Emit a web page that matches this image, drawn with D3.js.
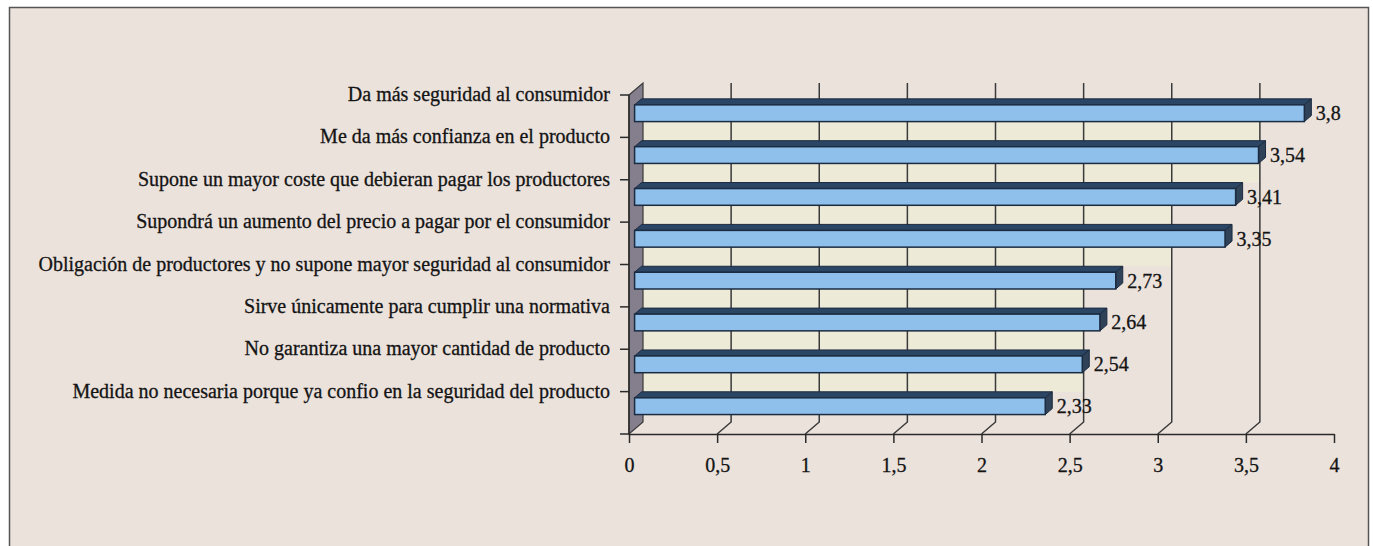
<!DOCTYPE html>
<html>
<head>
<meta charset="utf-8">
<script src="https://cdn.jsdelivr.net/npm/d3@7"></script>
<style>
  body { margin: 0; background: #ffffff; }
  svg { display: block; }
</style>
</head>
<body>
<svg id="chart" width="1373" height="546"></svg>
<script>
const categories = [
  "Da más seguridad al consumidor",
  "Me da más confianza en el producto",
  "Supone un mayor coste que debieran pagar los productores",
  "Supondrá un aumento del precio a pagar por el consumidor",
  "Obligación de productores y no supone mayor seguridad al consumidor",
  "Sirve únicamente para cumplir una normativa",
  "No garantiza una mayor cantidad de producto",
  "Medida no necesaria porque ya confio en la seguridad del producto"
];
const values = [3.8, 3.54, 3.41, 3.35, 2.73, 2.64, 2.54, 2.33];
const xTicks = [0, 0.5, 1, 1.5, 2, 2.5, 3, 3.5, 4];

const font = "'Liberation Serif', 'Times New Roman', serif";

// 3d depth of the plot (back wall offset)
const dx = 14, dy = -12;
// bar depth, as fraction of full depth
const d1 = 0.4, d2 = 0.9;

const yTop = 95, yBot = 434;
const x = d3.scaleLinear().domain([0, 4]).range([629, 1334]);
const y = d3.scaleBand().domain(categories).range([yTop, yBot]).paddingInner(0.6).paddingOuter(0.35);
const catStep = (yBot - yTop) / categories.length;
const fmt = v => String(v).replace(".", ",");

const svg = d3.select("#chart");

// chart frame
svg.append("rect")
  .attr("x", 9.5).attr("y", 7.5)
  .attr("width", 1359).attr("height", 560)
  .attr("fill", "#ebe2dc")
  .attr("stroke", "#555")
  .attr("stroke-width", 1.5);

// cream strips on back wall between bars
svg.append("g")
  .selectAll("rect")
  .data(categories.slice(0, -1))
  .join("rect")
  .attr("x", x(0) + dx)
  .attr("y", d => y(d) + y.bandwidth() + d1 * dy)
  .attr("width", (d, i) => x(Math.floor(values[i] * 2) / 2) - x(0))
  .attr("height", d => y.step() - y.bandwidth() + (d2 - d1) * dy)
  .attr("fill", "#eeead8");

// gridlines on back wall and floor
svg.append("g")
  .attr("stroke", "#3a3a3a")
  .attr("stroke-width", 1.5)
  .attr("fill", "none")
  .selectAll("path")
  .data(xTicks.filter(v => v > 0 && v < 4))
  .join("path")
  .attr("d", v => `M${x(v) + dx},${yTop + dy}V${yBot + dy}L${x(v)},${yBot}`);

// left side wall
svg.append("path")
  .attr("d", `M${x(0)},${yTop}L${x(0) + dx},${yTop + dy}V${yBot + dy}L${x(0)},${yBot}Z`)
  .attr("fill", "#857e8c")
  .attr("stroke", "#3a3a3a")
  .attr("stroke-width", 1.2);

// bars
const bars = svg.append("g")
  .selectAll("g")
  .data(categories)
  .join("g");

const bx0 = x(0);
bars.append("path") // top face
  .attr("d", (d, i) => {
    const yy = y(d);
    const xv = x(values[i]);
    return `M${bx0 + d1 * dx},${yy + d1 * dy}L${xv + d1 * dx},${yy + d1 * dy}L${xv + d2 * dx},${yy + d2 * dy}L${bx0 + d2 * dx},${yy + d2 * dy}Z`;
  })
  .attr("fill", "#2b4564")
  .attr("stroke", "#1b2b40")
  .attr("stroke-width", 1);

bars.append("path") // end cap
  .attr("d", (d, i) => {
    const yy = y(d), h = y.bandwidth();
    const xv = x(values[i]);
    return `M${xv + d1 * dx},${yy + d1 * dy}L${xv + d2 * dx},${yy + d2 * dy}L${xv + d2 * dx},${yy + h + d2 * dy}L${xv + d1 * dx},${yy + h + d1 * dy}Z`;
  })
  .attr("fill", "#2f4257")
  .attr("stroke", "#1b2b40")
  .attr("stroke-width", 1);

bars.append("rect") // front face
  .attr("x", bx0 + d1 * dx)
  .attr("y", d => y(d) + d1 * dy)
  .attr("width", (d, i) => x(values[i]) - x(0))
  .attr("height", y.bandwidth())
  .attr("fill", "#8fc0eb")
  .attr("stroke", "#1b2b40")
  .attr("stroke-width", 1.5);

// value labels
bars.append("text")
  .attr("x", (d, i) => x(values[i]) + dx + 3)
  .attr("y", d => y(d) + d1 * dy + y.bandwidth() / 2)
  .attr("dy", "0.35em")
  .attr("font-family", font)
  .attr("font-size", 20)
  .attr("fill", "#141414")
  .attr("stroke", "#141414")
  .attr("stroke-width", 0.3)
  .text((d, i) => fmt(values[i]));

// category axis (front left edge)
svg.append("line")
  .attr("x1", x(0)).attr("x2", x(0))
  .attr("y1", yTop).attr("y2", yBot)
  .attr("stroke", "#2a2a2a").attr("stroke-width", 1.5);

svg.append("g")
  .attr("stroke", "#2a2a2a").attr("stroke-width", 1.5)
  .selectAll("line")
  .data(d3.range(categories.length + 1))
  .join("line")
  .attr("x1", x(0) - 9).attr("x2", x(0))
  .attr("y1", k => yTop + k * catStep)
  .attr("y2", k => yTop + k * catStep);

svg.append("g")
  .attr("font-family", font)
  .attr("font-size", 20)
  .attr("fill", "#141414")
  .attr("stroke", "#141414")
  .attr("stroke-width", 0.3)
  .attr("text-anchor", "end")
  .selectAll("text")
  .data(categories)
  .join("text")
  .attr("x", x(0) - 19)
  .attr("y", (d, k) => yTop + k * catStep)
  .attr("dy", "0.3em")
  .text(d => d);

// value axis
const xAxis = svg.append("g")
  .attr("transform", `translate(0,${yBot})`)
  .call(d3.axisBottom(x).tickValues(xTicks).tickFormat(fmt).tickSize(9).tickSizeOuter(0).tickPadding(15));

xAxis.select(".domain").attr("stroke", "#2a2a2a").attr("stroke-width", 1.5);
xAxis.selectAll(".tick line").attr("stroke", "#2a2a2a").attr("stroke-width", 1.5);
xAxis.selectAll(".tick text")
  .attr("font-family", font)
  .attr("font-size", 20)
  .attr("fill", "#141414")
  .attr("stroke", "#141414")
  .attr("stroke-width", 0.3);
</script>
</body>
</html>
